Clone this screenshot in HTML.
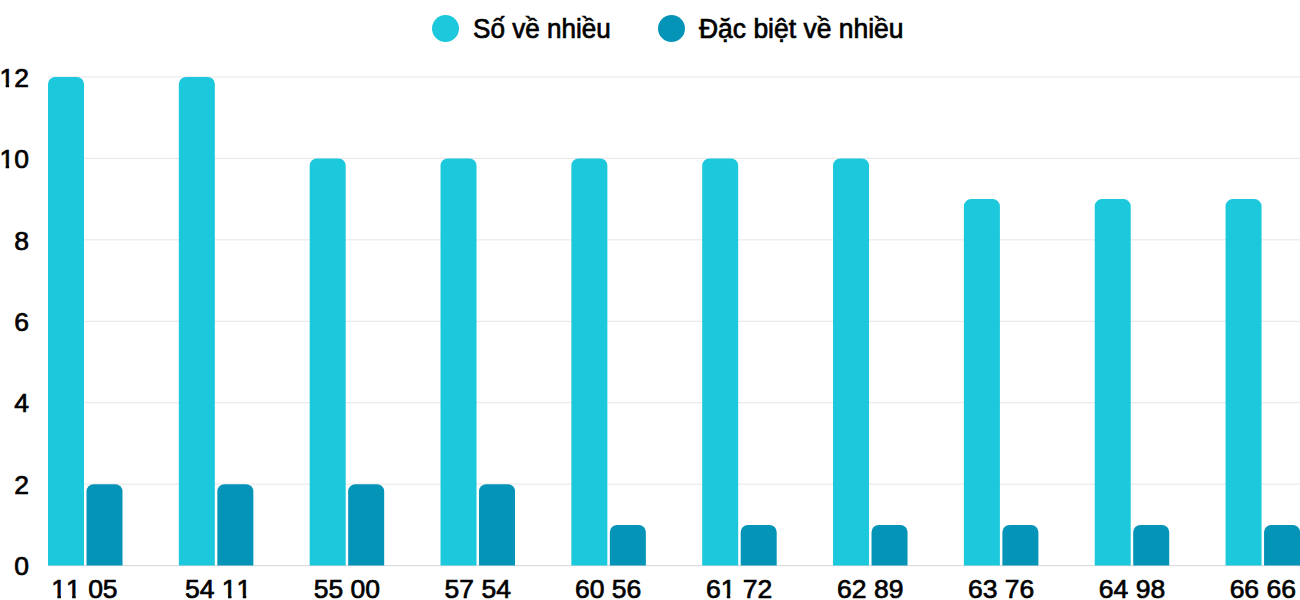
<!DOCTYPE html>
<html><head><meta charset="utf-8">
<style>
html,body{margin:0;padding:0;background:#fff;width:1300px;height:600px;overflow:hidden;position:relative;}
body{font-family:"Liberation Sans",sans-serif;color:#000;-webkit-text-stroke:0.7px #000;}
svg{position:absolute;left:0;top:0;}
.yl{position:absolute;right:1271px;font-size:26.5px;line-height:26.5px;height:26.5px;margin-top:-12.25px;text-align:right;white-space:nowrap;}
.xl{position:absolute;top:576px;font-size:26.5px;line-height:26.5px;transform:translateX(-50%);white-space:nowrap;}
.o{display:inline-block;position:relative;left:0px;clip-path:polygon(0 0,100% 0,100% 18.8px,9.6px 18.8px,9.6px 100%,6.2px 100%,6.2px 18.8px,0 18.8px);}
.leg{position:absolute;top:0;left:0;}
.dot{position:absolute;width:27px;height:27px;border-radius:50%;top:15px;}
.lt{position:absolute;top:16.3px;transform-origin:0 0;font-size:27px;line-height:27px;white-space:nowrap;}
</style></head><body>
<svg width="1300" height="600" viewBox="0 0 1300 600">
<rect x="48.0" y="565.10" width="1252.0" height="1" fill="#d6d6d6"/>
<rect x="48.0" y="483.66" width="1252.0" height="1" fill="#e5e5e5"/>
<rect x="48.0" y="402.22" width="1252.0" height="1" fill="#e5e5e5"/>
<rect x="48.0" y="320.78" width="1252.0" height="1" fill="#e5e5e5"/>
<rect x="48.0" y="239.34" width="1252.0" height="1" fill="#e5e5e5"/>
<rect x="48.0" y="157.90" width="1252.0" height="1" fill="#e5e5e5"/>
<rect x="48.0" y="76.46" width="1252.0" height="1" fill="#e5e5e5"/>
<path d="M48.00,565.60 L48.00,84.16 A7.2,7.2 0 0 1 55.20,76.96 L76.80,76.96 A7.2,7.2 0 0 1 84.00,84.16 L84.00,565.60 Z" fill="#1bc8dc"/>
<path d="M86.50,565.60 L86.50,491.36 A7.2,7.2 0 0 1 93.70,484.16 L115.30,484.16 A7.2,7.2 0 0 1 122.50,491.36 L122.50,565.60 Z" fill="#0494b8"/>
<path d="M178.84,565.60 L178.84,84.16 A7.2,7.2 0 0 1 186.04,76.96 L207.64,76.96 A7.2,7.2 0 0 1 214.84,84.16 L214.84,565.60 Z" fill="#1bc8dc"/>
<path d="M217.34,565.60 L217.34,491.36 A7.2,7.2 0 0 1 224.54,484.16 L246.14,484.16 A7.2,7.2 0 0 1 253.34,491.36 L253.34,565.60 Z" fill="#0494b8"/>
<path d="M309.68,565.60 L309.68,165.60 A7.2,7.2 0 0 1 316.88,158.40 L338.48,158.40 A7.2,7.2 0 0 1 345.68,165.60 L345.68,565.60 Z" fill="#1bc8dc"/>
<path d="M348.18,565.60 L348.18,491.36 A7.2,7.2 0 0 1 355.38,484.16 L376.98,484.16 A7.2,7.2 0 0 1 384.18,491.36 L384.18,565.60 Z" fill="#0494b8"/>
<path d="M440.52,565.60 L440.52,165.60 A7.2,7.2 0 0 1 447.72,158.40 L469.32,158.40 A7.2,7.2 0 0 1 476.52,165.60 L476.52,565.60 Z" fill="#1bc8dc"/>
<path d="M479.02,565.60 L479.02,491.36 A7.2,7.2 0 0 1 486.22,484.16 L507.82,484.16 A7.2,7.2 0 0 1 515.02,491.36 L515.02,565.60 Z" fill="#0494b8"/>
<path d="M571.36,565.60 L571.36,165.60 A7.2,7.2 0 0 1 578.56,158.40 L600.16,158.40 A7.2,7.2 0 0 1 607.36,165.60 L607.36,565.60 Z" fill="#1bc8dc"/>
<path d="M609.86,565.60 L609.86,532.08 A7.2,7.2 0 0 1 617.06,524.88 L638.66,524.88 A7.2,7.2 0 0 1 645.86,532.08 L645.86,565.60 Z" fill="#0494b8"/>
<path d="M702.20,565.60 L702.20,165.60 A7.2,7.2 0 0 1 709.40,158.40 L731.00,158.40 A7.2,7.2 0 0 1 738.20,165.60 L738.20,565.60 Z" fill="#1bc8dc"/>
<path d="M740.70,565.60 L740.70,532.08 A7.2,7.2 0 0 1 747.90,524.88 L769.50,524.88 A7.2,7.2 0 0 1 776.70,532.08 L776.70,565.60 Z" fill="#0494b8"/>
<path d="M833.04,565.60 L833.04,165.60 A7.2,7.2 0 0 1 840.24,158.40 L861.84,158.40 A7.2,7.2 0 0 1 869.04,165.60 L869.04,565.60 Z" fill="#1bc8dc"/>
<path d="M871.54,565.60 L871.54,532.08 A7.2,7.2 0 0 1 878.74,524.88 L900.34,524.88 A7.2,7.2 0 0 1 907.54,532.08 L907.54,565.60 Z" fill="#0494b8"/>
<path d="M963.88,565.60 L963.88,206.32 A7.2,7.2 0 0 1 971.08,199.12 L992.68,199.12 A7.2,7.2 0 0 1 999.88,206.32 L999.88,565.60 Z" fill="#1bc8dc"/>
<path d="M1002.38,565.60 L1002.38,532.08 A7.2,7.2 0 0 1 1009.58,524.88 L1031.18,524.88 A7.2,7.2 0 0 1 1038.38,532.08 L1038.38,565.60 Z" fill="#0494b8"/>
<path d="M1094.72,565.60 L1094.72,206.32 A7.2,7.2 0 0 1 1101.92,199.12 L1123.52,199.12 A7.2,7.2 0 0 1 1130.72,206.32 L1130.72,565.60 Z" fill="#1bc8dc"/>
<path d="M1133.22,565.60 L1133.22,532.08 A7.2,7.2 0 0 1 1140.42,524.88 L1162.02,524.88 A7.2,7.2 0 0 1 1169.22,532.08 L1169.22,565.60 Z" fill="#0494b8"/>
<path d="M1225.56,565.60 L1225.56,206.32 A7.2,7.2 0 0 1 1232.76,199.12 L1254.36,199.12 A7.2,7.2 0 0 1 1261.56,206.32 L1261.56,565.60 Z" fill="#1bc8dc"/>
<path d="M1264.06,565.60 L1264.06,532.08 A7.2,7.2 0 0 1 1271.26,524.88 L1292.86,524.88 A7.2,7.2 0 0 1 1300.06,532.08 L1300.06,565.60 Z" fill="#0494b8"/>
</svg>
<div class="yl" style="top:565.60px">0</div>
<div class="yl" style="top:484.16px">2</div>
<div class="yl" style="top:402.72px">4</div>
<div class="yl" style="top:321.28px">6</div>
<div class="yl" style="top:239.84px">8</div>
<div class="yl" style="top:158.40px"><span class="o">1</span>0</div>
<div class="yl" style="top:76.96px"><span class="o">1</span>2</div>
<div class="xl" style="left:84.45px"><span class="o">1</span><span class="o">1</span> 05</div>
<div class="xl" style="left:218.19px">54 <span class="o">1</span><span class="o">1</span></div>
<div class="xl" style="left:346.93px">55 00</div>
<div class="xl" style="left:477.77px">57 54</div>
<div class="xl" style="left:608.11px">60 56</div>
<div class="xl" style="left:739.05px">6<span class="o">1</span> 72</div>
<div class="xl" style="left:870.29px">62 89</div>
<div class="xl" style="left:1001.13px">63 76</div>
<div class="xl" style="left:1131.97px">64 98</div>
<div class="xl" style="left:1262.81px">66 66</div>
<div class="dot" style="left:432.4px;background:#1bc8dc"></div>
<div class="lt" style="left:473px;transform:scaleX(0.966)">Số về nhiều</div>
<div class="dot" style="left:658px;background:#0494b8"></div>
<div class="lt" style="left:699px;transform:scaleX(0.98)">Đặc biệt về nhiều</div>
</body></html>
